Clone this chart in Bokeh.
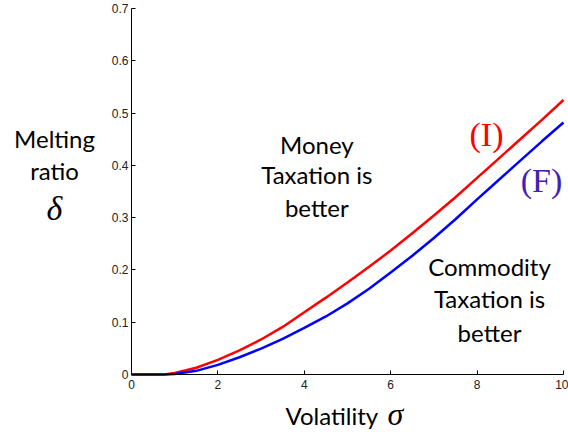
from bokeh.plotting import figure
from bokeh.models import Range1d, Label, FixedTicker
from bokeh.embed import file_html
from bokeh.resources import INLINE

# ---- data ----
sigma = [0, 0.5, 0.75, 1, 1.5, 2, 2.5, 3, 3.5, 4, 4.5, 5, 5.5, 6, 6.5, 7, 7.5, 8, 8.5, 9, 9.5, 10]
delta_I = [0, 0, 0, 0.003, 0.013, 0.028, 0.046, 0.067, 0.091, 0.119, 0.147, 0.176, 0.206, 0.237,
           0.270, 0.304, 0.339, 0.376, 0.413, 0.450, 0.487, 0.525]
delta_F = [0, 0, 0, 0.001, 0.007, 0.0185, 0.033, 0.0495, 0.068, 0.089, 0.111, 0.136, 0.164, 0.195,
           0.227, 0.261, 0.297, 0.335, 0.372, 0.409, 0.446, 0.482]
x_ticks = [0, 2, 4, 6, 8, 10]
y_ticks = [0, 0.1, 0.2, 0.3, 0.4, 0.5, 0.6, 0.7]
y_tick_labels = {0: "0", 0.1: "0.1", 0.2: "0.2", 0.3: "0.3", 0.4: "0.4", 0.5: "0.5", 0.6: "0.6", 0.7: "0.7"}

# the frame spans the whole canvas; axes are pinned at 0 and bounded to the data span
p = figure(width=568, height=432, min_border=0, output_backend="svg", toolbar_location=None,
           x_range=Range1d(-3.032, 10.116), y_range=Range1d(-0.1109, 0.7153))
p.outline_line_color = None
p.grid.visible = False
p.background_fill_color = "white"
p.border_fill_color = "white"

for ax in (p.xaxis[0], p.yaxis[0]):
    ax.fixed_location = 0
    ax.axis_line_color = "black"
    ax.major_tick_line_color = "black"
    ax.major_tick_in = 4
    ax.major_tick_out = 0
    ax.minor_tick_line_color = None
    ax.major_label_text_font = "Liberation Sans"
    ax.major_label_text_font_size = "12px"
    ax.major_label_text_color = "#222222"
p.xaxis[0].ticker = FixedTicker(ticks=x_ticks)
p.xaxis[0].bounds = (0, 10)
p.yaxis[0].ticker = FixedTicker(ticks=y_ticks)
p.yaxis[0].bounds = (0, 0.7)
p.yaxis[0].major_label_overrides = y_tick_labels
p.yaxis[0].major_label_standoff = 3
p.xaxis[0].major_label_standoff = 5

p.line(sigma, delta_I, line_color="#ff0000", line_width=2.5)
p.line(sigma, delta_F, line_color="#0000ff", line_width=2.5)

def lab(x, y, text, font="Lato", size="24px", color="black", style="normal", align="center"):
    p.add_layout(Label(x=x, y=y, text=text, text_font=font, text_font_size=size,
                       text_color=color, text_font_style=style, text_align=align,
                       text_baseline="middle"))

# region texts
lab(4.29, 0.4408, "Money")
lab(4.29, 0.3825, "Taxation is")
lab(4.29, 0.3203, "better")
lab(8.287, 0.2075, "Commodity")
lab(8.287, 0.1453, "Taxation is")
lab(8.287, 0.0813, "better")

# curve labels
lab(8.218, 0.459, "(I)", font="Liberation Serif", size="34px", color="#ff0000")
lab(9.491, 0.371, "(F)", font="Liberation Serif", size="34px", color="#3f22b6")

# y label
lab(-1.782, 0.4513, "Melting")
lab(-1.782, 0.3901, "ratio")
lab(-1.782, 0.3184, "δ", font="Liberation Serif", size="34px", style="italic")

# x label
lab(3.565, -0.0784, "Volatility", align="left")
lab(5.926, -0.0746, "σ", font="Liberation Serif", size="32px", style="italic", align="left")

open("out.html", "w").write(file_html(p, INLINE))
